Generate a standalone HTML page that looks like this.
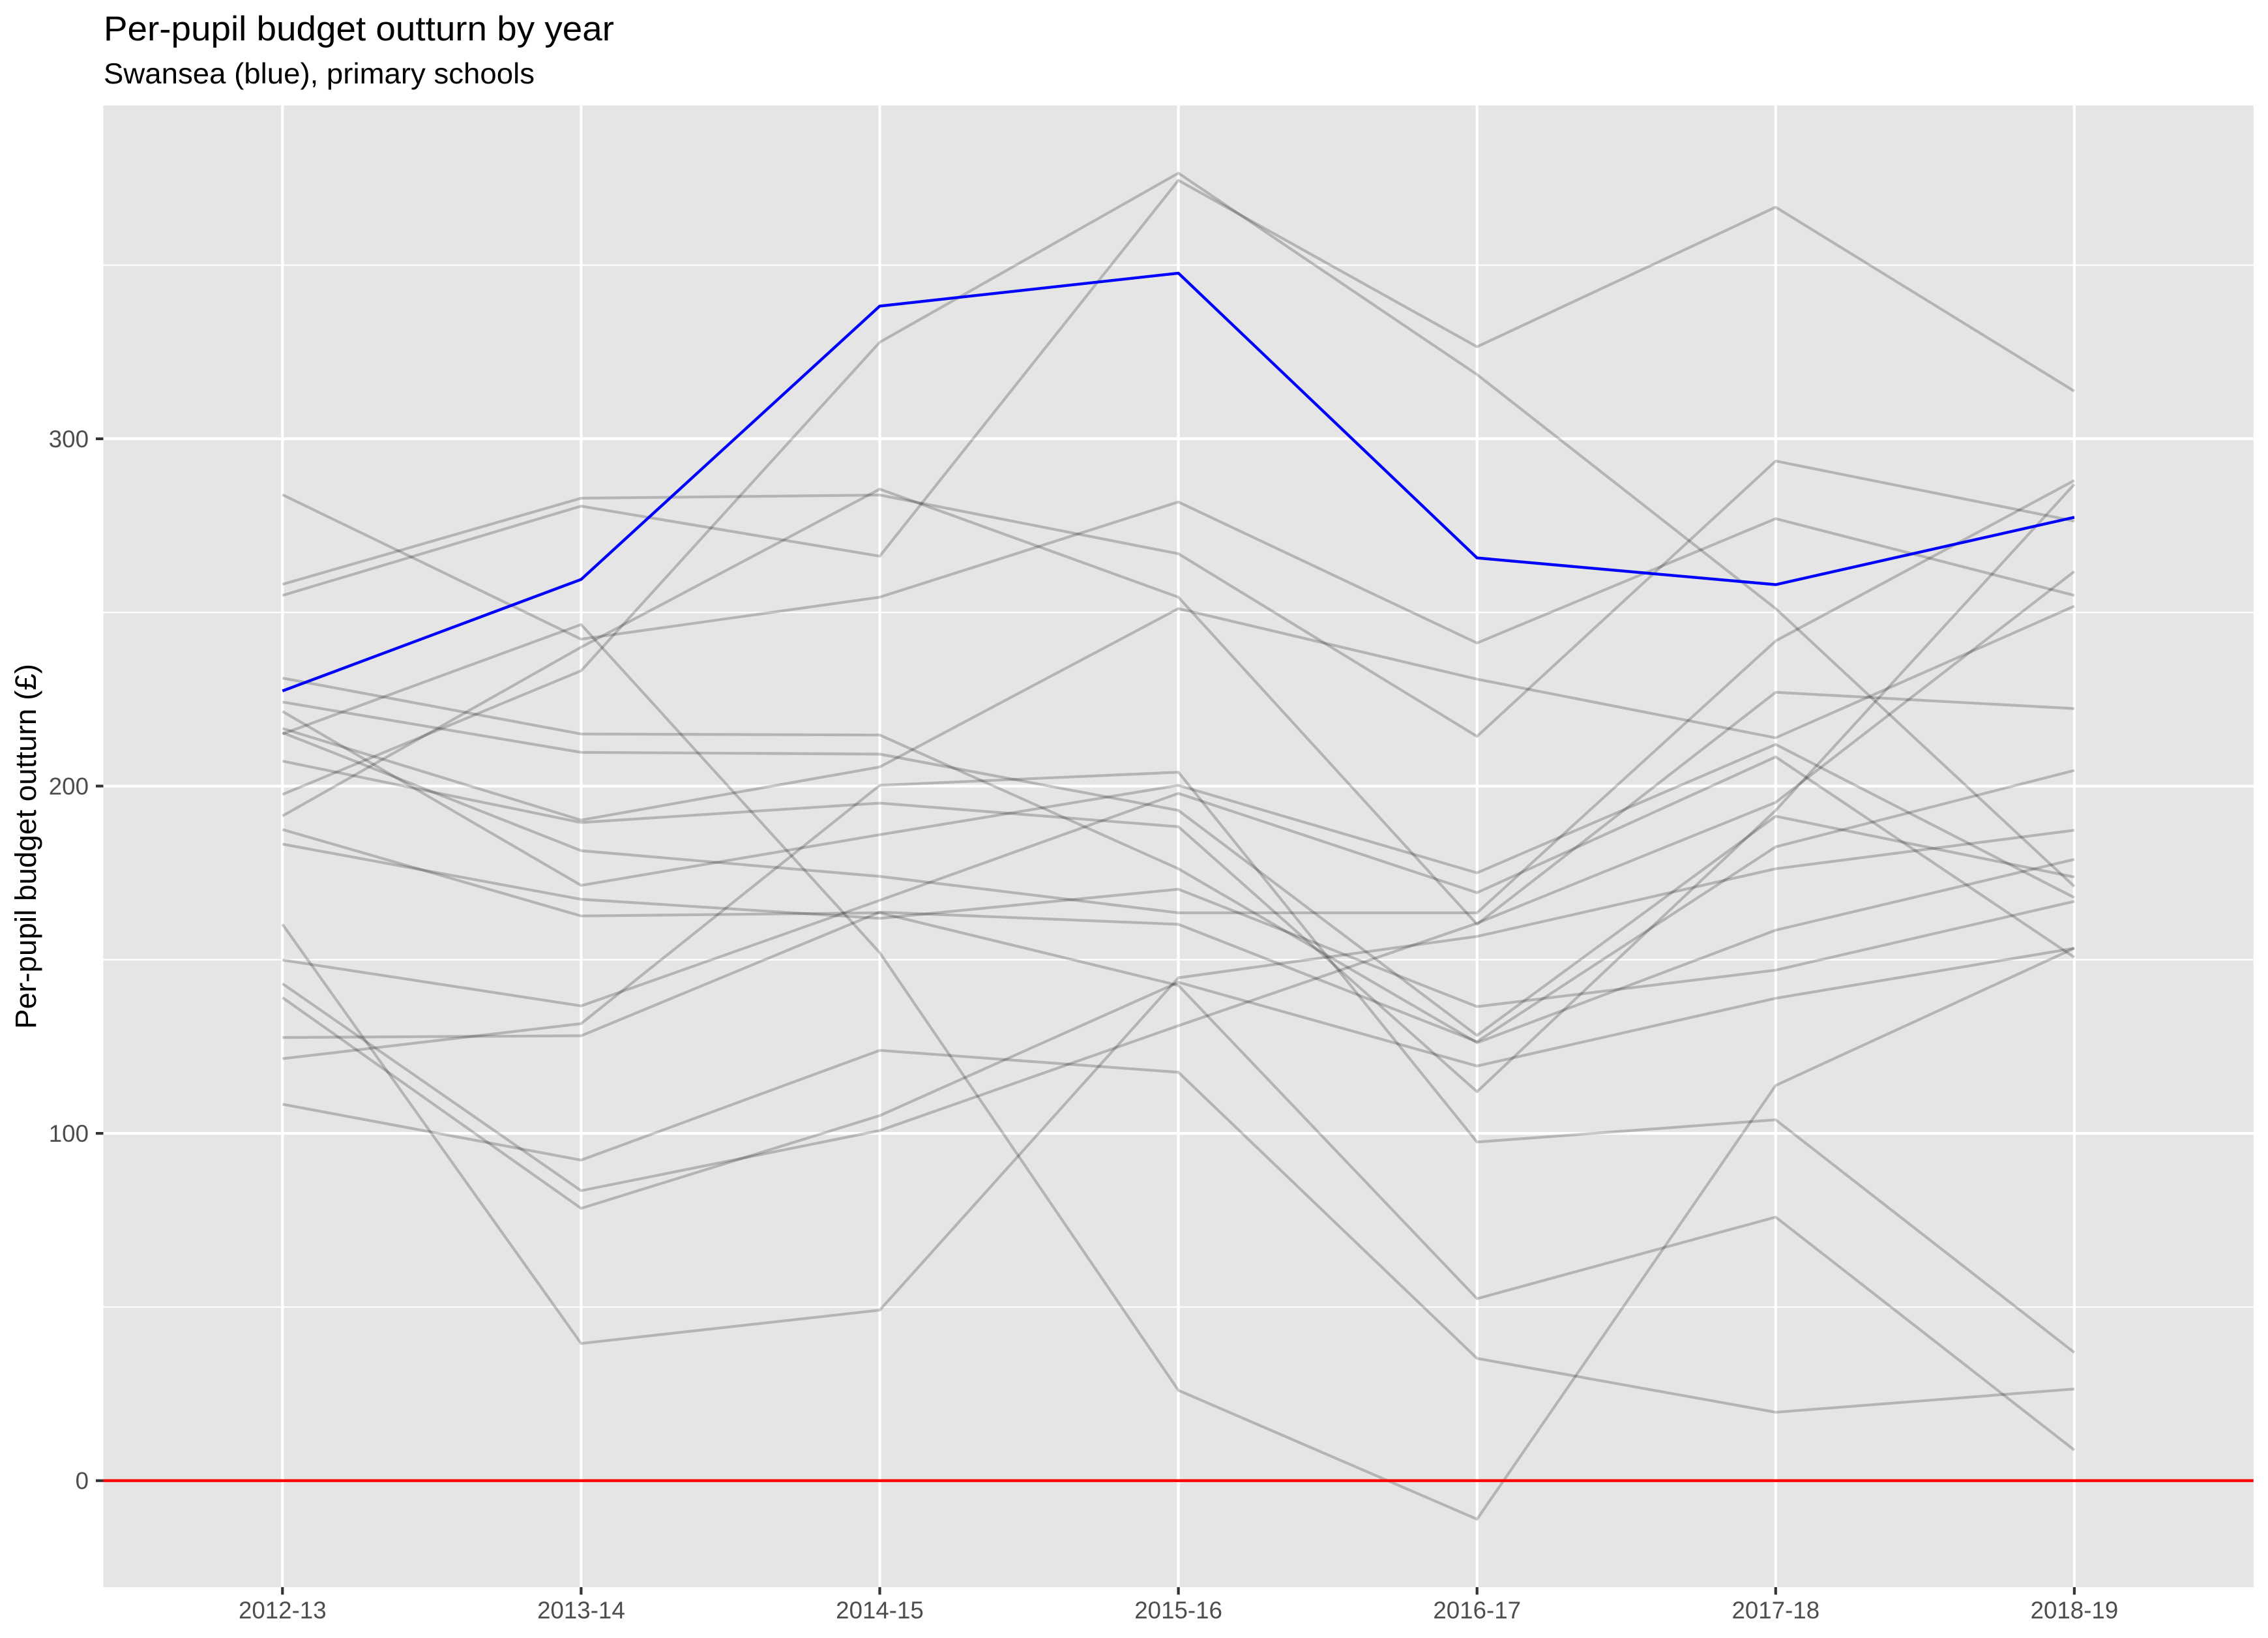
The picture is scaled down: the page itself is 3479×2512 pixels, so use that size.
<!DOCTYPE html>
<html>
<head>
<meta charset="utf-8">
<style>
html,body{margin:0;padding:0;background:#fff;}
svg{display:block;}
text{font-family:"Liberation Sans",Arial,sans-serif;}
</style>
</head>
<body>
<svg width="3479" height="2512" viewBox="0 0 3479 2512" xmlns="http://www.w3.org/2000/svg">
<rect x="0" y="0" width="3479" height="2512" fill="#ffffff"/>
<!-- panel -->
<rect x="158.5" y="161.7" width="3298.3" height="2272.3" fill="#E5E5E5"/>
<!-- minor gridlines -->
<g stroke="#ffffff" stroke-width="2.1" fill="none">
<line x1="158.5" y1="2004.4" x2="3456.8" y2="2004.4"/>
<line x1="158.5" y1="1471.8" x2="3456.8" y2="1471.8"/>
<line x1="158.5" y1="939.2" x2="3456.8" y2="939.2"/>
<line x1="158.5" y1="406.6" x2="3456.8" y2="406.6"/>
</g>
<!-- major gridlines -->
<g stroke="#ffffff" stroke-width="4.2" fill="none">
<line x1="158.5" y1="2270.7" x2="3456.8" y2="2270.7"/>
<line x1="158.5" y1="1738.1" x2="3456.8" y2="1738.1"/>
<line x1="158.5" y1="1205.5" x2="3456.8" y2="1205.5"/>
<line x1="158.5" y1="672.9" x2="3456.8" y2="672.9"/>
<line x1="433.3" y1="161.7" x2="433.3" y2="2434"/>
<line x1="891.4" y1="161.7" x2="891.4" y2="2434"/>
<line x1="1349.5" y1="161.7" x2="1349.5" y2="2434"/>
<line x1="1807.6" y1="161.7" x2="1807.6" y2="2434"/>
<line x1="2265.7" y1="161.7" x2="2265.7" y2="2434"/>
<line x1="2723.8" y1="161.7" x2="2723.8" y2="2434"/>
<line x1="3181.9" y1="161.7" x2="3181.9" y2="2434"/>
</g>
<!-- grey lines -->
<g stroke="rgb(0,0,0)" stroke-opacity="0.21" stroke-width="4.2" fill="none" stroke-linejoin="round">
<polyline points="433.3,758.7 891.4,980.2 1349.5,915.8 1807.6,769.8 2265.7,986.1 2723.8,795.4 3181.9,913.1"/>
<polyline points="433.3,896.1 891.4,764.0 1349.5,759.2 1807.6,849.2 2265.7,1129.3 2723.8,707.0 3181.9,799.1"/>
<polyline points="433.3,913.1 891.4,776.2 1349.5,852.9 1807.6,276.6 2265.7,531.8 2723.8,317.7 3181.9,599.9"/>
<polyline points="433.3,1218.3 891.4,1028.7 1349.5,524.8 1807.6,265.5 2265.7,574.4 2723.8,933.3 3181.9,1359.4"/>
<polyline points="433.3,1251.3 891.4,992.5 1349.5,750.1 1807.6,915.8 2265.7,1417.5 2723.8,1061.7 3181.9,1086.7"/>
<polyline points="433.3,1125.6 891.4,957.8 1349.5,1461.1 1807.6,2132.2 2265.7,2329.8 2723.8,1664.6 3181.9,1454.2"/>
<polyline points="433.3,1039.9 891.4,1125.6 1349.5,1127.2 1807.6,1332.3 2265.7,1599.1 2723.8,1426.5 3181.9,1317.9"/>
<polyline points="433.3,1076.6 891.4,1153.8 1349.5,1156.5 1807.6,1242.8 2265.7,1587.9 2723.8,1251.8 3181.9,1345.0"/>
<polyline points="433.3,1117.1 891.4,1257.7 1349.5,1176.2 1807.6,933.3 2265.7,1041.5 2723.8,1131.5 3181.9,929.6"/>
<polyline points="433.3,1167.2 891.4,1261.4 1349.5,1231.6 1807.6,1267.8 2265.7,1674.2 2723.8,1242.8 3181.9,742.7"/>
<polyline points="433.3,1091.0 891.4,1357.8 1349.5,1280.1 1807.6,1204.4 2265.7,1338.6 2723.8,1141.6 3181.9,1376.5"/>
<polyline points="433.3,1123.5 891.4,1304.6 1349.5,1344.0 1807.6,1399.9 2265.7,1399.9 2723.8,982.9 3181.9,736.8"/>
<polyline points="433.3,1272.1 891.4,1404.7 1349.5,1399.9 1807.6,1511.2 2265.7,1991.6 2723.8,1866.5 3181.9,2223.8"/>
<polyline points="433.3,1294.5 891.4,1379.1 1349.5,1408.4 1807.6,1363.7 2265.7,1543.7 2723.8,1487.8 3181.9,1382.3"/>
<polyline points="433.3,1417.5 891.4,2060.3 1349.5,2009.2 1807.6,1499.5 2265.7,1436.1 2723.8,1332.3 3181.9,1273.2"/>
<polyline points="433.3,1472.3 891.4,1542.6 1349.5,1380.7 1807.6,1216.7 2265.7,1369.0 2723.8,1160.8 3181.9,1468.1"/>
<polyline points="433.3,1508.5 891.4,1826.0 1349.5,1733.8 1807.6,1573.0 2265.7,1415.9 2723.8,1230.5 3181.9,876.4"/>
<polyline points="433.3,1529.9 891.4,1853.1 1349.5,1710.9 1807.6,1506.4 2265.7,1634.8 2723.8,1530.9 3181.9,1454.2"/>
<polyline points="433.3,1591.1 891.4,1588.4 1349.5,1398.8 1807.6,1417.5 2265.7,1597.5 2723.8,1298.7 3181.9,1181.5"/>
<polyline points="433.3,1623.6 891.4,1569.8 1349.5,1204.4 1807.6,1184.2 2265.7,1751.4 2723.8,1717.3 3181.9,2074.2"/>
<polyline points="433.3,1693.4 891.4,1779.1 1349.5,1610.8 1807.6,1644.4 2265.7,2083.2 2723.8,2165.8 3181.9,2130.1"/>
</g>
<!-- blue line -->
<polyline points="433.3,1059.6 891.4,888.6 1349.5,469.4 1807.6,418.9 2265.7,855.6 2723.8,896.6 3181.9,793.3" stroke="#0000FF" stroke-width="4.4" fill="none" stroke-linejoin="round"/>
<!-- zero line -->
<line x1="158.5" y1="2270.7" x2="3456.8" y2="2270.7" stroke="#FF0000" stroke-width="4.4"/>
<!-- ticks -->
<g stroke="#333333" stroke-width="4.2">
<line x1="147" y1="2270.7" x2="158.5" y2="2270.7"/>
<line x1="147" y1="1738.1" x2="158.5" y2="1738.1"/>
<line x1="147" y1="1205.5" x2="158.5" y2="1205.5"/>
<line x1="147" y1="672.9" x2="158.5" y2="672.9"/>
<line x1="433.3" y1="2434" x2="433.3" y2="2445.5"/>
<line x1="891.4" y1="2434" x2="891.4" y2="2445.5"/>
<line x1="1349.5" y1="2434" x2="1349.5" y2="2445.5"/>
<line x1="1807.6" y1="2434" x2="1807.6" y2="2445.5"/>
<line x1="2265.7" y1="2434" x2="2265.7" y2="2445.5"/>
<line x1="2723.8" y1="2434" x2="2723.8" y2="2445.5"/>
<line x1="3181.9" y1="2434" x2="3181.9" y2="2445.5"/>
</g>
<!-- y tick labels -->
<g fill="#4D4D4D" font-size="36.7" text-anchor="end">
<text x="136" y="2283.7">0</text>
<text x="136" y="1751.1">100</text>
<text x="136" y="1218.5">200</text>
<text x="136" y="685.9">300</text>
</g>
<!-- x tick labels -->
<g fill="#4D4D4D" font-size="36.7" text-anchor="middle">
<text x="433.3" y="2482">2012-13</text>
<text x="891.4" y="2482">2013-14</text>
<text x="1349.5" y="2482">2014-15</text>
<text x="1807.6" y="2482">2015-16</text>
<text x="2265.7" y="2482">2016-17</text>
<text x="2723.8" y="2482">2017-18</text>
<text x="3181.9" y="2482">2018-19</text>
</g>
<!-- y axis title -->
<text transform="translate(55,1298) rotate(-90)" font-size="45.8" fill="#000000" text-anchor="middle">Per-pupil budget outturn (£)</text>
<!-- titles -->
<text x="159" y="62" font-size="53" fill="#000000" textLength="783" lengthAdjust="spacingAndGlyphs">Per-pupil budget outturn by year</text>
<text x="159" y="128" font-size="44.5" fill="#000000" textLength="661" lengthAdjust="spacingAndGlyphs">Swansea (blue), primary schools</text>
</svg>
</body>
</html>
